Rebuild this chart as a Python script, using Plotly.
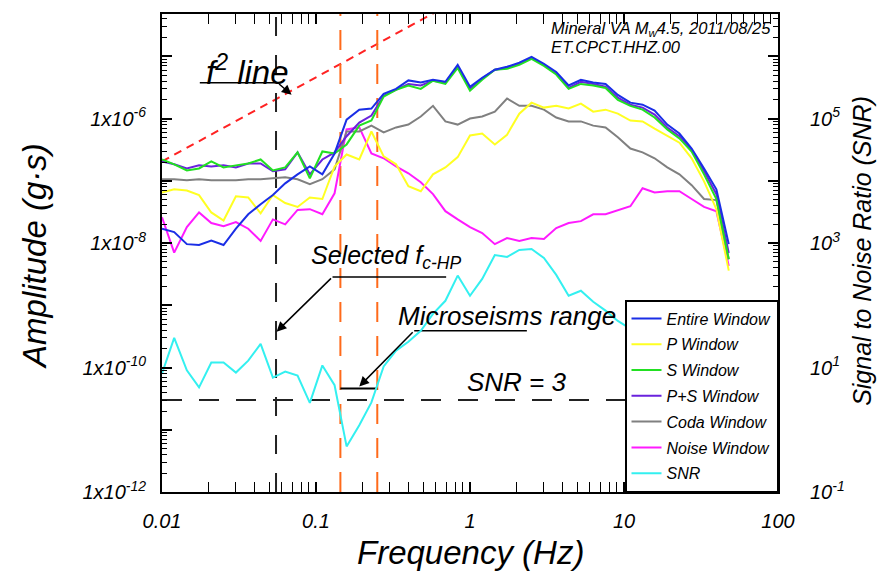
import math
import plotly.graph_objects as go

# ---------------- data ----------------
freq = [0.0100, 0.0120, 0.0145, 0.0174, 0.0209, 0.0251, 0.0302, 0.0363, 0.0437, 0.0525,
        0.0631, 0.0759, 0.0912, 0.110, 0.132, 0.158, 0.191, 0.229, 0.275, 0.331,
        0.398, 0.479, 0.575, 0.692, 0.832, 1.00, 1.20, 1.45, 1.74, 2.09,
        2.51, 3.02, 3.63, 4.37, 5.25, 6.31, 7.59, 9.12, 11.0, 13.2,
        15.8, 19.1, 22.9, 27.5, 33.1, 39.8, 47.9]

entire_window = [1.7e-8, 1.5e-8, 9.6e-9, 9.3e-9, 1.1e-8, 9.3e-9, 1.7e-8, 2.9e-8, 4.2e-8, 5.9e-8,
                 9.1e-8, 1.27e-7, 1.7e-7, 1.27e-7, 2.75e-7, 9.6e-7, 1.39e-6, 1.45e-6, 2.5e-6, 3.0e-6,
                 4.1e-6, 3.8e-6, 4.2e-6, 3.9e-6, 7.3e-6, 3.25e-6, 4.5e-6, 6.1e-6, 6.8e-6, 7.9e-6,
                 9.8e-6, 7.6e-6, 5.6e-6, 3.4e-6, 4.2e-6, 3.8e-6, 3.6e-6, 2.4e-6, 1.8e-6, 1.67e-6,
                 1.34e-6, 8.0e-7, 5.75e-7, 3.3e-7, 1.58e-7, 7.3e-8, 9.6e-9]

p_window = [6.5e-8, 7.3e-8, 7.0e-8, 5.9e-8, 3.1e-8, 2.3e-8, 5.65e-8, 5.4e-8, 3.0e-8, 5.9e-8,
            4.4e-8, 3.8e-8, 5.4e-8, 5.1e-8, 1.7e-7, 2.65e-7, 2.2e-7, 6.2e-7, 2.47e-7, 1.84e-7,
            8.2e-8, 6.8e-8, 1.27e-7, 1.64e-7, 2.4e-7, 5.35e-7, 5.75e-7, 3.84e-7, 5.5e-7, 1.2e-6,
            1.8e-6, 1.5e-6, 1.6e-6, 1.45e-6, 1.74e-6, 1.29e-6, 1.39e-6, 1.2e-6, 9.3e-7, 9.0e-7,
            6.9e-7, 5.35e-7, 4.1e-7, 2.3e-7, 9.8e-8, 3.5e-8, 3.6e-9]

s_window = [2.2e-7, 1.84e-7, 1.47e-7, 1.58e-7, 2.05e-7, 1.64e-7, 1.77e-7, 1.9e-7, 2.2e-7, 1.47e-7,
            1.64e-7, 2.86e-7, 1.1e-7, 2.96e-7, 2.75e-7, 3.84e-7, 7.7e-7, 9.3e-7, 2.25e-6, 2.9e-6,
            3.4e-6, 3.0e-6, 4.06e-6, 3.6e-6, 6.5e-6, 2.8e-6, 4.2e-6, 6.1e-6, 6.3e-6, 7.3e-6,
            9.1e-6, 7.0e-6, 5.1e-6, 3.0e-6, 3.6e-6, 3.4e-6, 3.1e-6, 2.0e-6, 1.6e-6, 1.39e-6,
            1.04e-6, 6.7e-7, 4.8e-7, 2.96e-7, 1.27e-7, 5.1e-8, 5.5e-9]

ps_window = [2.05e-7, 1.84e-7, 1.58e-7, 1.77e-7, 1.7e-7, 1.77e-7, 1.64e-7, 1.9e-7, 1.9e-7, 1.42e-7,
             1.53e-7, 2.86e-7, 1.27e-7, 2.2e-7, 2.86e-7, 5.2e-7, 8.6e-7, 1.12e-6, 2.33e-6, 2.9e-6,
             3.6e-6, 3.4e-6, 4.06e-6, 3.77e-6, 6.8e-6, 3.0e-6, 4.4e-6, 6.1e-6, 6.5e-6, 7.6e-6,
             9.5e-6, 7.3e-6, 5.25e-6, 3.1e-6, 3.9e-6, 3.6e-6, 3.25e-6, 2.17e-6, 1.67e-6, 1.5e-6,
             1.16e-6, 7.2e-7, 5.2e-7, 3.1e-7, 1.42e-7, 6.1e-8, 6.9e-9]

coda_window = [1.06e-7, 1.06e-7, 1.02e-7, 1.06e-7, 1.02e-7, 1.02e-7, 1.02e-7, 1.06e-7, 1.06e-7, 1.1e-7,
               1.14e-7, 1.06e-7, 8.8e-8, 1.06e-7, 1.53e-7, 6.2e-7, 6.2e-7, 7.7e-7, 6.0e-7, 7.2e-7,
               8.0e-7, 1.08e-6, 1.6e-6, 9.0e-7, 8.0e-7, 1.0e-6, 1.08e-6, 1.29e-6, 2.1e-6, 1.6e-6,
               1.6e-6, 1.39e-6, 1.04e-6, 9.0e-7, 9.0e-7, 7.7e-7, 7.2e-7, 5.0e-7, 3.3e-7, 2.86e-7,
               2.3e-7, 1.64e-7, 1.27e-7, 8.5e-8, 5.1e-8, 4.9e-8, 5.5e-9]

noise_window = [2.6e-8, 7.0e-9, 1.8e-8, 3.1e-8, 2.1e-8, 1.87e-8, 2.17e-8, 1.7e-8, 1.08e-8, 2.4e-8,
                2.0e-8, 3.4e-8, 3.5e-8, 2.9e-8, 6.3e-8, 6.7e-7, 7.2e-7, 2.75e-7, 2.3e-7, 1.7e-7,
                1.32e-7, 9.5e-8, 6.1e-8, 3.25e-8, 2.4e-8, 1.8e-8, 1.45e-8, 9.6e-9, 1.2e-8, 1.08e-8,
                1.2e-8, 1.16e-8, 1.74e-8, 2.1e-8, 2.25e-8, 2.9e-8, 2.9e-8, 3.4e-8, 3.9e-8, 7.6e-8,
                6.5e-8, 6.8e-8, 6.8e-8, 5.1e-8, 3.8e-8, 3.25e-8, 4.3e-9]

snr = [8.0, 30, 9.0, 4.8, 12, 12, 8.3, 12.9, 24, 6.9,
       8.6, 7.4, 2.7, 10.8, 5.2, 0.54, 1.18, 2.75, 10.4, 18.7,
       26, 39, 73, 118, 300, 142, 265, 643, 597, 773,
       802, 575, 308, 142, 171, 114, 82, 56, 42, 39,
       32.5, 22.5, 18.7, 12.9, 9.0, 5.2, 3.0]

# reference lines
f2_line_freq = [0.01, 1.0]
f2_line_amp = [2.05e-7, 1.03e-4]
selected_fc_hp = 0.055
microseism_range = [0.144, 0.25]
snr_threshold = 3

# annotation leaders (frequency, amplitude)
f2_leader_freq = [0.0176, 0.0563]
f2_leader_amp = 3.77e-6
f2_tip = (0.0694, 2.42e-6)
sel_leader_freq = [0.70, 0.128]
sel_leader_amp = 2.86e-9
sel_tip = (0.0555, 3.77e-10)
mic_leader_freq = [2.34, 0.434]
mic_leader_amp = 3.91e-10
mic_tip = (0.191, 4.97e-11)
mic_bar_amp = 4.6e-11

# ticks
x_tick_vals = [0.01, 0.1, 1, 10, 100]
x_tick_text = ["0.01", "0.1", "1", "10", "100"]
y_decades = list(range(-12, -4))
y_labels = {-12: "1x10<sup>-12</sup>", -10: "1x10<sup>-10</sup>",
            -8: "1x10<sup>-8</sup>", -6: "1x10<sup>-6</sup>"}
y2_decades = list(range(-1, 7))
y2_labels = {-1: "10<sup>-1</sup>", 1: "10<sup>1</sup>", 3: "10<sup>3</sup>", 5: "10<sup>5</sup>"}

FONT = "Liberation Sans, Arial, sans-serif"

def minor_vals(d0, d1):
    return [m * 10.0 ** d for d in range(d0, d1) for m in range(2, 10)]

fig = go.Figure()

# f^2 line
fig.add_trace(go.Scatter(x=f2_line_freq, y=f2_line_amp, mode="lines", showlegend=False,
                         line=dict(color="#ff2222", width=2, dash="8px,6px"), hoverinfo="skip"))
# selected fc-HP
fig.add_trace(go.Scatter(x=[selected_fc_hp, selected_fc_hp], y=[1e-12, 1e-3], mode="lines",
                         showlegend=False, line=dict(color="#222222", width=2, dash="19px,19px"),
                         hoverinfo="skip"))
# microseism range bounds
for fm in microseism_range:
    fig.add_trace(go.Scatter(x=[fm, fm], y=[1e-12, 1e-3], mode="lines", showlegend=False,
                             line=dict(color="#ff6a1a", width=2, dash="20px,14px"),
                             hoverinfo="skip"))

series = [
    ("Noise Window", noise_window, "#ff1aff", 6),
    ("Coda Window", coda_window, "#808080", 5),
    ("P Window", p_window, "#ffff22", 2),
    ("P+S Window", ps_window, "#6a22dd", 4),
    ("S Window", s_window, "#22e022", 3),
    ("Entire Window", entire_window, "#1a2ee6", 1),
]
for name, vals, col, rank in series:
    fig.add_trace(go.Scatter(x=freq, y=vals, mode="lines", name=name, legendrank=rank,
                             legendgroup=name, line=dict(color=col, width=2)))

# leaders
fig.add_trace(go.Scatter(x=f2_leader_freq, y=[f2_leader_amp] * 2, mode="lines", showlegend=False,
                         line=dict(color="black", width=1.5), hoverinfo="skip"))
fig.add_trace(go.Scatter(x=sel_leader_freq, y=[sel_leader_amp] * 2, mode="lines", showlegend=False,
                         line=dict(color="black", width=1.5), hoverinfo="skip"))
fig.add_trace(go.Scatter(x=mic_leader_freq, y=[mic_leader_amp] * 2, mode="lines", showlegend=False,
                         line=dict(color="black", width=1.5), hoverinfo="skip"))
fig.add_trace(go.Scatter(x=microseism_range, y=[mic_bar_amp] * 2, mode="lines", showlegend=False,
                         line=dict(color="black", width=2), hoverinfo="skip"))

# SNR on right axis
fig.add_trace(go.Scatter(x=[0.01, 100], y=[snr_threshold] * 2, yaxis="y2", mode="lines",
                         showlegend=False, line=dict(color="#222222", width=2, dash="20px,17px"),
                         hoverinfo="skip"))
fig.add_trace(go.Scatter(x=freq, y=snr, yaxis="y2", mode="lines", name="SNR", legendrank=7,
                         legendgroup="SNR", line=dict(color="#33f0f0", width=2)))

tickfont = dict(family=FONT, size=20, color="black", style="italic")
axis_common = dict(type="log", showline=True, linecolor="black", linewidth=2,
                   ticks="inside", ticklen=10, tickwidth=1.5, tickcolor="black",
                   showgrid=False, zeroline=False, tickfont=tickfont, tickmode="array")

fig.update_layout(
    width=878, height=575,
    margin=dict(l=162, r=100, t=12, b=83),
    paper_bgcolor="white", plot_bgcolor="white",
    xaxis=dict(axis_common, range=[-2, 2], mirror="allticks",
               tickvals=x_tick_vals, ticktext=x_tick_text, ticklabelstandoff=10,
               minor=dict(tickmode="array", tickvals=minor_vals(-2, 2), ticks="inside",
                          ticklen=5, tickwidth=1, tickcolor="black")),
    yaxis=dict(axis_common, range=[-12, -4.32], mirror=False,
               tickvals=[10.0 ** d for d in y_decades],
               ticktext=[y_labels.get(d, "") for d in y_decades], ticklabelstandoff=10,
               minor=dict(tickmode="array", tickvals=minor_vals(-12, -4), ticks="inside",
                          ticklen=5, tickwidth=1, tickcolor="black")),
    yaxis2=dict(axis_common, range=[-1, 6.68], overlaying="y", side="right", anchor="x",
                tickvals=[10.0 ** d for d in y2_decades],
                ticktext=[y2_labels.get(d, "") for d in y2_decades], ticklabelstandoff=26,
                minor=dict(tickmode="array", tickvals=minor_vals(-1, 7), ticks="inside",
                           ticklen=5, tickwidth=1, tickcolor="black")),
    legend=dict(x=1, y=0, xanchor="right", yanchor="bottom", bgcolor="white",
                bordercolor="black", borderwidth=1.5, tracegroupgap=2,
                font=dict(family=FONT, size=16, color="black", style="italic")),
    showlegend=True,
)

L = math.log10
ital = lambda s: dict(family=FONT, size=s, color="black", style="italic")

def txt(text, x, y, size, xanchor="center", angle=0):
    return dict(text=text, xref="paper", yref="paper", x=x, y=y, xanchor=xanchor,
                yanchor="middle", textangle=angle, showarrow=False, font=ital(size))

anns = [
    txt("Amplitude (g·s)", -0.206, 0.494, 33, angle=-90),
    txt("Frequency (Hz)", 0.5, -0.127, 33),
    txt("Signal to Noise Ratio (SNR)", 1.136, 0.504, 25, angle=-90),
    txt("f<sup>2</sup> line", 0.138, 0.883, 33),
    txt("Selected f<sub>c-HP</sub>", 0.3636, 0.4917, 25),
    txt("Microseisms range", 0.56, 0.369, 26),
    txt("SNR = 3", 0.576, 0.231, 26),
    txt("Mineral VA M<sub>w</sub>4.5, 2011/08/25", 0.628, 0.969, 16.5, xanchor="left"),
    txt("ET.CPCT.HHZ.00", 0.628, 0.931, 16.5, xanchor="left"),
]
for tip, tail in [(f2_tip, (f2_leader_freq[1], f2_leader_amp)),
                  (sel_tip, (sel_leader_freq[1], sel_leader_amp)),
                  (mic_tip, (mic_leader_freq[1], mic_leader_amp))]:
    anns.append(dict(text="", x=L(tip[0]), y=L(tip[1]), xref="x", yref="y",
                     ax=L(tail[0]), ay=L(tail[1]), axref="x", ayref="y",
                     showarrow=True, arrowhead=2, arrowsize=1.3, arrowwidth=1.5,
                     arrowcolor="black"))
fig.update_layout(annotations=anns)

# remove the page's default body margin so the 878x575 figure fills the window exactly
fig.write_html("out.html", config={"displayModeBar": False},
               post_script="document.body.style.margin='0';document.body.style.overflow='hidden';")
